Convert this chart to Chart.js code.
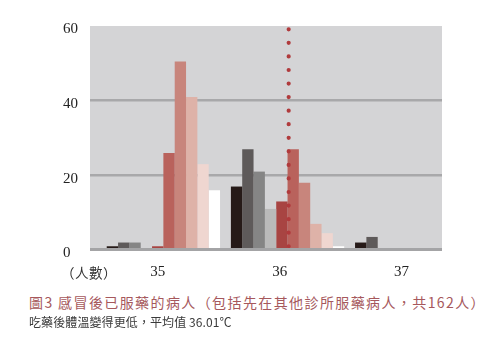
<!DOCTYPE html>
<html>
<head>
<meta charset="utf-8">
<script src="https://cdn.jsdelivr.net/npm/chart.js@4"></script>
<style>
  body { margin: 0; background: #fff; }
  #wrap { position: relative; width: 500px; height: 349px; background: #fff; overflow: hidden; }
  #chartBox { position: absolute; left: 0; top: 0; width: 500px; height: 290px; }
  .txt { position: absolute; white-space: nowrap; font-family: "Noto Sans CJK TC", "Noto Sans", sans-serif; }
  #yTitle { left: 61px; top: 263px; font-size: 13.5px; line-height: 18px; letter-spacing: 0.5px; color: #333; }
  #cap1 { left: 29px; top: 292px; font-size: 14px; line-height: 20px; letter-spacing: 1.4px; color: #a6585c; }
  #cap2 { left: 29px; top: 313px; font-size: 12px; line-height: 18px; letter-spacing: 0.1px; color: #3a3a3a; }
</style>
</head>
<body>
<div id="wrap">
  <div id="chartBox"><canvas id="chart"></canvas></div>
  <div class="txt" id="yTitle">（人數）</div>
  <div class="txt" id="cap1">圖3 感冒後已服藥的病人（包括先在其他診所服藥病人，共162人）</div>
  <div class="txt" id="cap2">吃藥後體溫變得更低，平均值 36.01℃</div>
</div>
<script>
// categories = whole degrees, each split in ten 0.1°C bins (x.5 below up to x.4 above)
const categories = ['35', '36', '37'];
const binOffsets = [-0.5, -0.4, -0.3, -0.2, -0.1, 0, 0.1, 0.2, 0.3, 0.4];

// number of patients per bin
const counts35 = [1, 2, 2, 0.5, 1, 26, 50.5, 41, 23, 16];
const counts36 = [17, 27, 21, 11, 13, 27, 18, 7, 4.5, 1];
const counts37 = [2, 3.5, 0, 0, 0, 0, 0, 0, 0, 0];

const yTicks = [0, 20, 40, 60];
const xTickLabels = ['35', '36', '37'];
const meanTemp = 36.01;

const binColors = ['#261a18', '#5e5a5a', '#858585', '#bababa', '#a84442',
                   '#b9625c', '#c8857c', '#deb2a8', '#efd6d0', '#ffffff'];

const catPct = 0.9126;
const groups = [counts35, counts36, counts37];

const barSets = binOffsets.map((off, k) => ({
    type: 'bar',
    label: String(off),
    data: groups.map((g, i) => ({ x: i, y: g[k] })),
    backgroundColor: binColors[k],
    borderWidth: 0,
    categoryPercentage: catPct,
    barPercentage: 1.0,
    xAxisID: 'x',
    yAxisID: 'y'
}));

// mean marker: bar k covers [t, t+0.1), so place by bin edge inside its group
const meanCat = Math.round(meanTemp);
const meanIdx = categories.indexOf(String(meanCat));
const meanSlot = (meanTemp - meanCat) * 10 + 5;
const meanX = meanIdx - catPct / 2 + meanSlot * catPct / 10;

const meanLine = {
    type: 'line',
    label: 'mean',
    data: [{ x: meanX, y: yTicks[yTicks.length - 1] }, { x: meanX, y: 0 }],
    borderColor: '#b03a3c',
    borderWidth: 4.2,
    borderDash: [0, 13.56],
    borderDashOffset: 10.26,
    borderCapStyle: 'round',
    pointRadius: 0,
    fill: false,
    order: -1,
    xAxisID: 'x',
    yAxisID: 'y'
};

const plotBackground = {
    id: 'plotBackground',
    beforeDraw(chart) {
        const { ctx, chartArea: a } = chart;
        ctx.save();
        ctx.fillStyle = '#d4d4d6';
        ctx.fillRect(a.left, a.top, a.right - a.left, a.bottom - a.top);
        ctx.restore();
    },
    afterDatasetsDraw(chart) {
        const { ctx, chartArea: a, scales } = chart;
        const y0 = scales.y.getPixelForValue(0);
        ctx.save();
        ctx.strokeStyle = '#a4a4a6';
        ctx.lineWidth = 3;
        ctx.beginPath();
        ctx.moveTo(a.left, y0 - 0.5);
        ctx.lineTo(a.right, y0 - 0.5);
        ctx.stroke();
        ctx.restore();
    }
};

const ctx = document.getElementById('chart').getContext('2d');
new Chart(ctx, {
    type: 'bar',
    data: { datasets: [meanLine, ...barSets] },
    options: {
        responsive: true,
        maintainAspectRatio: false,
        animation: false,
        layout: { padding: { left: 63, top: 26, right: 58, bottom: 0 } },
        plugins: {
            legend: { display: false },
            tooltip: { enabled: false }
        },
        scales: {
            x: {
                type: 'linear',
                display: false,
                offset: false,
                min: -0.591,
                max: 2.244,
                afterBuildTicks(axis) {
                    axis.ticks = categories.map((c, i) => ({ value: i }));
                }
            },
            xl: {
                type: 'linear',
                position: 'bottom',
                offset: false,
                min: 34.443,
                max: 37.333,
                afterBuildTicks(axis) {
                    axis.ticks = xTickLabels.map(v => ({ value: Number(v) }));
                },
                afterFit(axis) { axis.height = 40; },
                grid: { display: false, drawTicks: false, offset: false },
                border: { display: false },
                ticks: {
                    padding: 13,
                    maxRotation: 0,
                    autoSkip: false,
                    color: '#222',
                    font: { family: 'Liberation Serif', size: 15 },
                    callback: v => String(v)
                }
            },
            y: {
                min: 0,
                max: 60,
                afterBuildTicks(axis) {
                    axis.ticks = yTicks.map(v => ({ value: v }));
                },
                afterFit(axis) { axis.width = 27; },
                grid: {
                    drawTicks: false,
                    lineWidth: 2.5,
                    color: c => (c.tick && (c.tick.value === 0 || c.tick.value === 60)) ? 'rgba(0,0,0,0)' : '#a8a8aa'
                },
                border: { display: false },
                ticks: {
                    crossAlign: 'far',
                    labelOffset: 3.5,
                    color: '#222',
                    font: { family: 'Liberation Serif', size: 15 }
                }
            }
        }
    },
    plugins: [plotBackground]
});
</script>
</body>
</html>
